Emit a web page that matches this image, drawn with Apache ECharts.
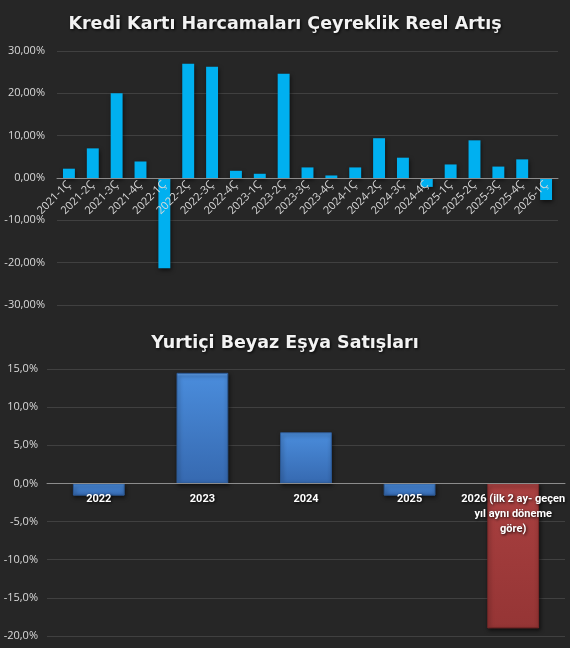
<!DOCTYPE html>
<html>
<head>
<meta charset="utf-8">
<script src="https://cdn.jsdelivr.net/npm/echarts@6/dist/echarts.min.js"></script>
<style>
  html, body { margin: 0; padding: 0; background: #262626; }
  #chart { width: 570px; height: 648px; }
</style>
</head>
<body>
<div id="chart"></div>
<script>
const quarters = ['2021-1Ç','2021-2Ç','2021-3Ç','2021-4Ç','2022-1Ç','2022-2Ç','2022-3Ç','2022-4Ç',
  '2023-1Ç','2023-2Ç','2023-3Ç','2023-4Ç','2024-1Ç','2024-2Ç','2024-3Ç','2024-4Ç',
  '2025-1Ç','2025-2Ç','2025-3Ç','2025-4Ç','2026-1Ç'];
const cardGrowth = [2.2, 7.0, 20.0, 3.9, -21.3, 27.0, 26.3, 1.7, 1.0, 24.6, 2.5, 0.6, 2.5, 9.4, 4.8, -2.1, 3.2, 8.9, 2.7, 4.4, -5.2];

const years = ['2022', '2023', '2024', '2025', '2026 (ilk 2 ay- geçen\nyıl aynı döneme\ngöre)'];
const applianceGrowth = [-1.6, 14.5, 6.7, -1.6, -19.0];

const topTicks = { min: -30, max: 30, interval: 10 };
const bottomTicks = { min: -20, max: 15, interval: 5 };

const H = 648;
const g1 = { left: 57, right: 12, top: 51, bottom: 343 };
const g2 = { left: 47, right: 5, top: 369, bottom: 12 };
// distance from grid bottom edge to the zero line, so labels sit under the zero axis
const zeroOff = (g, t) => (0 - t.min) / (t.max - t.min) * (H - g.top - g.bottom);

const chart = echarts.init(document.getElementById('chart'));
const fam = "'Open Sans', 'Noto Sans', sans-serif";
const titleFam = "'DejaVu Sans', sans-serif";
const blueStyle = {
  color: new echarts.graphic.LinearGradient(0, 0, 0, 1, [
    { offset: 0, color: '#6aa8ee' }, { offset: 0.03, color: '#4a8cdb' }, { offset: 1, color: '#3669b0' }]),
  borderColor: '#2d5a96', borderWidth: 1
};
const redStyle = {
  color: new echarts.graphic.LinearGradient(0, 0, 0, 1, [
    { offset: 0, color: '#c86060' }, { offset: 0.015, color: '#a94040' }, { offset: 1, color: '#953535' }]),
  borderColor: '#7a2828', borderWidth: 1
};
const lastIdx = applianceGrowth.length - 1;
const applianceData = applianceGrowth.map((v, i) => ({ value: v, itemStyle: i === lastIdx ? redStyle : blueStyle }));

const titleStyle = { color: '#f2f2f2', fontSize: 17.5, fontWeight: 'bold', fontFamily: titleFam,
  textShadowColor: 'rgba(0,0,0,0.9)', textShadowBlur: 3, textShadowOffsetX: 1, textShadowOffsetY: 1 };

chart.setOption({
  backgroundColor: '#262626',
  animation: false,
  title: [
    { text: 'Kredi Kartı Harcamaları Çeyreklik Reel Artış', left: 'center', top: 10, textStyle: titleStyle },
    { text: 'Yurtiçi Beyaz Eşya Satışları', left: 'center', top: 329, textStyle: titleStyle }
  ],
  grid: [
    Object.assign({ outerBoundsMode: 'none' }, g1),
    Object.assign({ outerBoundsMode: 'none' }, g2)
  ],
  xAxis: [
    { type: 'category', gridIndex: 0, data: quarters, z: 10,
      axisLine: { onZero: true, lineStyle: { color: '#8c8c8c', width: 1 } },
      axisTick: { show: false },
      axisLabel: { interval: 0, rotate: 45, color: '#d9d9d9', fontSize: 11, fontFamily: fam,
        margin: 5 - zeroOff(g1, topTicks) } },
    { type: 'category', gridIndex: 1, data: years, z: 10,
      axisLine: { onZero: true, lineStyle: { color: '#8c8c8c', width: 1 } },
      axisTick: { show: false },
      axisLabel: { interval: 0, color: '#ffffff', fontSize: 11, fontWeight: 'bold', lineHeight: 15,
        margin: 8 - zeroOff(g2, bottomTicks),
        fontFamily: "'Roboto', sans-serif",
        textShadowColor: 'rgba(0,0,0,0.9)', textShadowBlur: 3, textShadowOffsetX: 1, textShadowOffsetY: 1 } }
  ],
  yAxis: [
    { type: 'value', gridIndex: 0, min: topTicks.min, max: topTicks.max, interval: topTicks.interval,
      axisLine: { show: false }, axisTick: { show: false },
      splitLine: { lineStyle: { color: '#404040', width: 1 } },
      axisLabel: { color: '#d9d9d9', fontSize: 11, margin: 12, fontFamily: fam,
        formatter: v => v.toFixed(2).replace('.', ',') + '%' } },
    { type: 'value', gridIndex: 1, min: bottomTicks.min, max: bottomTicks.max, interval: bottomTicks.interval,
      axisLine: { show: false }, axisTick: { show: false },
      splitLine: { lineStyle: { color: '#404040', width: 1 } },
      axisLabel: { color: '#d9d9d9', fontSize: 11, margin: 9, fontFamily: fam,
        formatter: v => v.toFixed(1).replace('.', ',') + '%' } }
  ],
  series: [
    { type: 'bar', xAxisIndex: 0, yAxisIndex: 0, data: cardGrowth, barWidth: '50%', z: 2,
      itemStyle: { color: '#00b0f0', shadowColor: 'rgba(0,0,0,0.6)', shadowBlur: 4, shadowOffsetX: 1, shadowOffsetY: 2 } },
    { type: 'bar', xAxisIndex: 1, yAxisIndex: 1, data: applianceData, barWidth: '50%', z: 2,
      itemStyle: { shadowColor: 'rgba(0,0,0,0.6)', shadowBlur: 4, shadowOffsetX: 1, shadowOffsetY: 2 } }
  ]
});
</script>
</body>
</html>
